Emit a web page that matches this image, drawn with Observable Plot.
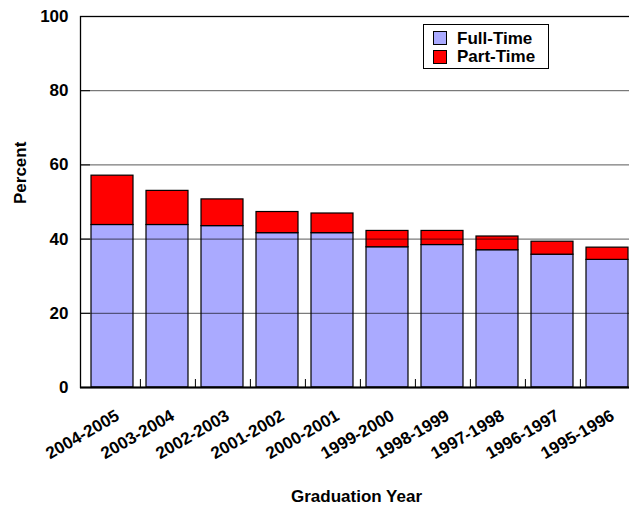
<!DOCTYPE html>
<html>
<head>
<meta charset="utf-8">
<script src="https://cdn.jsdelivr.net/npm/d3@7"></script>
<script src="https://cdn.jsdelivr.net/npm/@observablehq/plot@0.6"></script>
<style>
  html, body { margin: 0; padding: 0; background: #fff; overflow: hidden; }
  #wrap { position: relative; width: 629px; height: 512px; overflow: hidden; font-family: "Liberation Sans", Arial, sans-serif; }
  #wrap svg { max-width: none !important; width: 648px; height: 512px; display: block; }
  #legend { position: absolute; left: 423px; top: 24px; width: 126px; height: 45px; border: 1px solid #000; background: #fff; box-sizing: border-box; }
  #legend .sw { position: absolute; left: 9px; width: 14px; height: 14px; border: 1px solid #000; box-sizing: border-box; }
  #legend .lb { position: absolute; left: 33px; font-size: 17px; font-weight: bold; line-height: 17px; color: #000; white-space: nowrap; }
</style>
</head>
<body>
<div id="wrap"></div>
<script>
// ---- data ----
const years = ["2004-2005","2003-2004","2002-2003","2001-2002","2000-2001","1999-2000","1998-1999","1997-1998","1996-1997","1995-1996"];
const fullTime = [43.8, 43.8, 43.5, 41.6, 41.6, 37.8, 38.4, 37.0, 35.8, 34.4];
const partTime = [13.3, 9.2, 7.2, 5.7, 5.3, 4.4, 3.8, 3.7, 3.5, 3.3];
const seriesNames = ["Full-Time", "Part-Time"];
const seriesColors = ["#AAAAFF", "#FF0000"];
const yTicks = [0, 20, 40, 60, 80, 100];
const gridValues = [20, 40, 60, 80];

const rows = [];
years.forEach((y, i) => {
  rows.push({year: y, series: seriesNames[0], value: fullTime[i]});
  rows.push({year: y, series: seriesNames[1], value: partTime[i]});
});

const W = 648, H = 512, ML = 80, MR = 10, MT = 16, MB = 125;
const step = (W - ML - MR) / years.length;
const font = "Liberation Sans, Arial, sans-serif";

const chart = Plot.plot({
  width: W, height: H,
  marginLeft: ML, marginRight: MR, marginTop: MT, marginBottom: MB,
  style: {fontFamily: font, background: "#fff", overflow: "visible", maxWidth: "none"},
  x: {domain: years, paddingInner: 0.24, paddingOuter: 0.12, axis: null},
  y: {domain: [0, 100], axis: null},
  color: {domain: seriesNames, range: seriesColors},
  marks: [
    Plot.barY(rows, Plot.stackY({order: seriesNames}, {x: "year", y: "value", fill: "series", stroke: "#000", strokeWidth: 1.2})),
    Plot.ruleY(gridValues, {stroke: "#000", strokeOpacity: 0.65, strokeWidth: 1}),
    Plot.axisY(gridValues, {anchor: "left", tickSize: -10, text: null, label: null, stroke: "#000"}),
    Plot.axisY(yTicks, {anchor: "left", tickSize: 0, tickPadding: 12, fontSize: 17, fontWeight: "bold", label: null, fill: "#000"}),
    Plot.ruleX(years, {x: d => d, y1: 0, y2: 0, insetTop: -8, dx: step / 2, stroke: "#000", strokeWidth: 1}),
    Plot.frame({stroke: "#000", strokeWidth: 1.3}),
    Plot.ruleY([0], {stroke: "#000", strokeWidth: 2}),
    Plot.text(years, {x: d => d, frameAnchor: "bottom", text: d => d, rotate: -30, textAnchor: "end", lineAnchor: "top", dx: 2, dy: 21, fontSize: 17, fontWeight: "bold", fill: "#000"}),
    Plot.text(["Percent"], {frameAnchor: "left", text: d => d, rotate: -90, dx: -60, dy: 2, fontSize: 17, fontWeight: "bold", fill: "#000"}),
    Plot.text(["Graduation Year"], {frameAnchor: "bottom", text: d => d, dx: -3, dy: 114, fontSize: 17, fontWeight: "bold", fill: "#000"})
  ]
});

const wrap = document.getElementById("wrap");
wrap.appendChild(chart);

const legend = document.createElement("div");
legend.id = "legend";
seriesNames.forEach((name, i) => {
  const sw = document.createElement("div");
  sw.className = "sw";
  sw.style.top = (i === 0 ? 6 : 25) + "px";
  sw.style.background = seriesColors[i];
  legend.appendChild(sw);
  const lb = document.createElement("div");
  lb.className = "lb";
  lb.style.top = (i === 0 ? 5 : 23) + "px";
  lb.textContent = name;
  legend.appendChild(lb);
});
wrap.appendChild(legend);
</script>
</body>
</html>
